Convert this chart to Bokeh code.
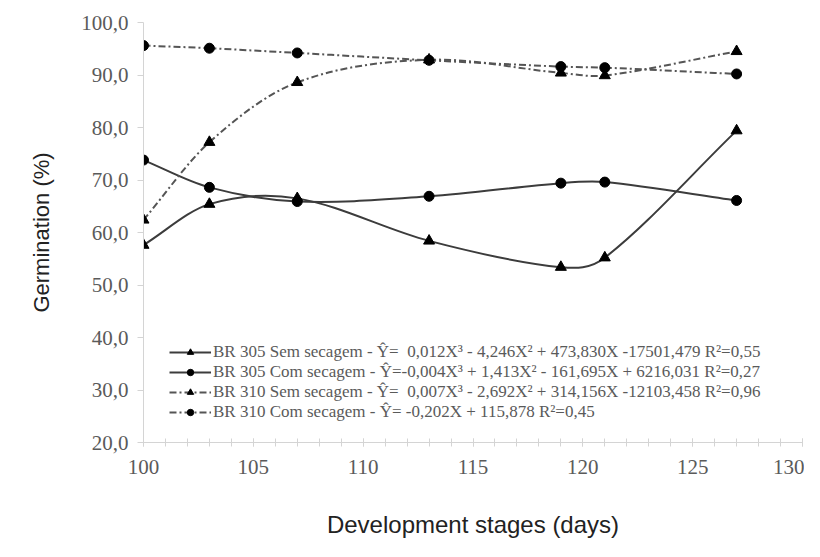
from bokeh.plotting import figure
from bokeh.models import Range1d, SingleIntervalTicker, CustomJSTickFormatter, Legend, LegendItem, FixedTicker
from bokeh.embed import file_html
from bokeh.resources import INLINE

# ---- data ----
days = [100, 103, 107, 113, 119, 121, 127]
br305_sem = [57.6, 65.4, 66.5, 58.4, 53.4, 55.2, 79.4]
br305_com = [73.8, 68.6, 65.9, 66.9, 69.4, 69.6, 66.1]
br310_sem = [62.4, 77.2, 88.6, 92.9, 90.4, 89.9, 94.5]
br310_com = [95.6, 95.1, 94.2, 92.8, 91.6, 91.4, 90.2]

labels = [
    "BR 305 Sem secagem - Ŷ=  0,012X³ - 4,246X² + 473,830X -17501,479 R²=0,55",
    "BR 305 Com secagem - Ŷ=-0,004X³ + 1,413X² - 161,695X + 6216,031 R²=0,27",
    "BR 310 Sem secagem - Ŷ=  0,007X³ - 2,692X² + 314,156X -12103,458 R²=0,96",
    "BR 310 Com secagem - Ŷ= -0,202X + 115,878 R²=0,45",
]
y_ticks = [20, 30, 40, 50, 60, 70, 80, 90, 100]


def smooth_segments(xs, ys):
    n = len(xs)
    m = []
    for i in range(n):
        if i == 0:
            m.append((ys[1] - ys[0]) / (xs[1] - xs[0]))
        elif i == n - 1:
            m.append((ys[-1] - ys[-2]) / (xs[-1] - xs[-2]))
        else:
            m.append((ys[i + 1] - ys[i - 1]) / (xs[i + 1] - xs[i - 1]))
    d = dict(x0=[], y0=[], x1=[], y1=[], cx0=[], cy0=[], cx1=[], cy1=[])
    for i in range(n - 1):
        h = xs[i + 1] - xs[i]
        d["x0"].append(xs[i]); d["y0"].append(ys[i])
        d["x1"].append(xs[i + 1]); d["y1"].append(ys[i + 1])
        d["cx0"].append(xs[i] + h / 3); d["cy0"].append(ys[i] + m[i] * h / 3)
        d["cx1"].append(xs[i + 1] - h / 3); d["cy1"].append(ys[i + 1] - m[i + 1] * h / 3)
    return d


p = figure(width=804, height=541, output_backend="svg", toolbar_location=None,
           x_range=Range1d(100, 130), y_range=Range1d(20, 100),
           min_border_left=143, min_border_right=2, min_border_top=22, min_border_bottom=99)
p.outline_line_color = None
p.xgrid.visible = False
p.ygrid.visible = False

axis_gray = "#d4d4d4"
lab_gray = "#5a5a5a"
serif = "Times New Roman"

for ax in (p.xaxis[0], p.yaxis[0]):
    ax.major_label_text_font = "serif"
    ax.major_label_text_font_style = "normal"
    ax.major_label_text_font_size = "21px"
    ax.major_label_text_color = lab_gray
    ax.axis_line_color = axis_gray
    ax.major_tick_line_color = axis_gray
    ax.axis_label_text_font = "Liberation Sans"
    ax.axis_label_text_font_style = "normal"
    ax.axis_label_text_color = "#222222"

p.xaxis.ticker = SingleIntervalTicker(interval=5, num_minor_ticks=5)
p.xaxis.minor_tick_line_color = axis_gray
p.xaxis.major_tick_in = 4
p.xaxis.major_tick_out = 4
p.xaxis.minor_tick_in = 4
p.xaxis.minor_tick_out = 4
p.xaxis.major_label_standoff = 13
p.xaxis.axis_label = "Development stages (days)"
p.xaxis.axis_label_text_font_size = "24px"
p.xaxis.axis_label_standoff = 34

p.yaxis.ticker = FixedTicker(ticks=y_ticks)
p.yaxis.formatter = CustomJSTickFormatter(code="return tick.toFixed(1).replace('.', ',');")
p.yaxis.major_tick_in = 0
p.yaxis.major_tick_out = 6
p.yaxis.minor_tick_line_color = None
p.yaxis.major_label_standoff = 9
p.yaxis.axis_label = "Germination (%)"
p.yaxis.axis_label_text_font_size = "22px"
p.yaxis.axis_label_standoff = 24

series = [
    (br305_sem, "triangle", "solid", "#3c3c3c"),
    (br305_com, "circle", "solid", "#3c3c3c"),
    (br310_sem, "triangle", "7 3 2 3", "#555555"),
    (br310_com, "circle", "7 3 2 3", "#555555"),
]

items = []
for (ys, marker, dash, col), lab in zip(series, labels):
    segs = smooth_segments(days, ys)
    r1 = p.bezier(x0="x0", y0="y0", x1="x1", y1="y1", cx0="cx0", cy0="cy0", cx1="cx1", cy1="cy1",
                  source=segs, line_color=col, line_width=2, line_dash=dash)
    r2 = p.scatter(days, ys, marker=marker, size=11 if marker == "triangle" else 10,
                   fill_color="black", line_color="black")
    items.append(LegendItem(label=lab, renderers=[r1, r2]))

legend = Legend(items=items, location=(26, 20), orientation="vertical")
legend.background_fill_alpha = 0
legend.border_line_color = None
legend.padding = 2
legend.spacing = 0
legend.margin = 0
legend.label_height = 16
legend.glyph_height = 16
legend.glyph_width = 42
legend.label_standoff = 2
legend.label_text_font = serif
legend.label_text_font_size = "17px"
legend.label_text_color = lab_gray
p.add_layout(legend, "center")

open("out.html", "w").write(file_html(p, INLINE))
